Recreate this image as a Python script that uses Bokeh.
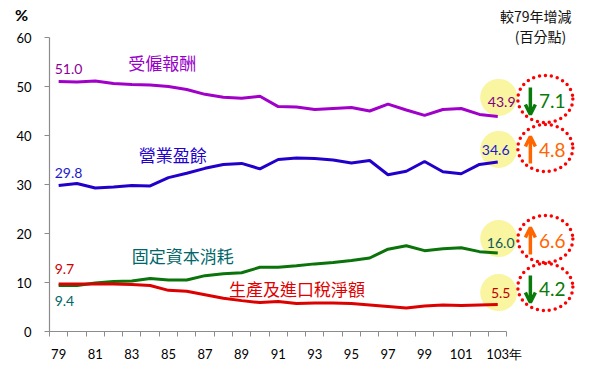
from bokeh.plotting import figure
from bokeh.models import (Range1d, FixedTicker, Label, Arrow, OpenHead)
from bokeh.core.properties import value
from bokeh.embed import file_html
from bokeh.resources import INLINE

# ---------------- data ----------------
years = list(range(79, 104))
year_ticks = list(range(79, 104, 2))
y_ticks = [0, 10, 20, 30, 40, 50, 60]

comp = [51.0, 50.9, 51.1, 50.6, 50.4, 50.3, 50.0, 49.4, 48.4, 47.8, 47.6, 48.0, 45.9,
        45.8, 45.3, 45.5, 45.7, 45.0, 46.4, 45.2, 44.1, 45.3, 45.5, 44.3, 43.9]
surplus = [29.8, 30.2, 29.3, 29.5, 29.8, 29.7, 31.4, 32.3, 33.3, 34.1, 34.3, 33.2, 35.1,
           35.4, 35.3, 35.0, 34.4, 34.9, 32.0, 32.7, 34.7, 32.6, 32.2, 34.1, 34.6]
capital = [9.4, 9.4, 9.9, 10.2, 10.3, 10.8, 10.5, 10.5, 11.4, 11.8, 12.0, 13.1, 13.1,
           13.4, 13.8, 14.1, 14.5, 15.0, 16.8, 17.5, 16.5, 16.9, 17.1, 16.3, 16.0]
tax = [9.7, 9.7, 9.7, 9.7, 9.6, 9.4, 8.4, 8.2, 7.5, 6.8, 6.3, 5.9, 6.1,
       5.7, 5.8, 5.8, 5.7, 5.4, 5.1, 4.8, 5.2, 5.4, 5.3, 5.4, 5.5]

names = ["受僱報酬", "營業盈餘", "固定資本消耗", "生產及進口稅淨額"]
series = [comp, surplus, capital, tax]
unit_label = "%"
year_unit = "年"
header = ["較79年增減", "(百分點)"]

# ---------------- styles / layout ----------------
line_colors = ["#A000C8", "#2200CC", "#0A730A", "#DD0000"]
name_colors = ["#9900CC", "#2200CC", "#00666A", "#E00000"]
end_colors = ["#800080", "#1A1ACC", "#0C5C5C", "#C00000"]
down_color = "#0A7A0A"
up_color = "#FF6600"

PX_X = 18.33   # px per year
PX_Y = 4.9     # px per percentage point
FW, FH = 600, 372
BL, BB = 48, 41
frame_w = FW - BL
frame_h = FH - BB
x0 = years[0] - 0.5

CJK = "Noto Sans CJK TC"
NUM = "Lato"

p = figure(width=FW, height=FH, output_backend="svg", toolbar_location=None,
           x_range=Range1d(x0, x0 + frame_w / PX_X), y_range=Range1d(0, frame_h / PX_Y),
           min_border_left=BL, min_border_right=0, min_border_top=0, min_border_bottom=BB)
p.outline_line_color = None
p.xgrid.visible = False
p.ygrid.visible = False
p.background_fill_color = "white"
p.border_fill_color = "white"

# axes
last_tick = years[-1] + 0.35   # shifted so that "103" stays centred and 年 follows it
xa = p.xaxis[0]
xa.ticker = FixedTicker(ticks=year_ticks[:-1] + [last_tick],
                        minor_ticks=[y - 0.5 for y in years] + [years[-1] + 0.5])
xa.major_label_overrides = {last_tick: f"{years[-1]}{year_unit}"}
xa.bounds = (years[0] - 0.5, years[-1] + 0.5)
xa.major_tick_out = 0
xa.major_tick_in = 0
xa.minor_tick_out = 5
xa.minor_tick_in = 0
xa.axis_line_color = "#8C8C8C"
xa.minor_tick_line_color = "#8C8C8C"
xa.axis_line_width = 1.2
xa.major_label_standoff = 9
xa.major_label_text_font = NUM
xa.major_label_text_font_size = "13px"
xa.major_label_text_color = "black"

ya = p.yaxis[0]
ya.ticker = FixedTicker(ticks=y_ticks, minor_ticks=[])
ya.bounds = (0, 60)
ya.major_tick_out = 5
ya.major_tick_in = 0
ya.minor_tick_out = 0
ya.axis_line_color = "#8C8C8C"
ya.major_tick_line_color = "#8C8C8C"
ya.axis_line_width = 1.2
ya.major_label_standoff = 13
ya.major_label_text_font = NUM
ya.major_label_text_font_size = "13px"
ya.major_label_text_color = "black"

# yellow badges behind the line ends
badge_dy_px = [19, 12.5, 14.5, 12]
badge_x = years[-1] + 0.05
ends = [s[-1] for s in series]
starts = [s[0] for s in series]
badge_y = [e + d / PX_Y for e, d in zip(ends, badge_dy_px)]
p.scatter(x=[badge_x] * 4, y=badge_y, size=37, fill_color="#F9F5A0", line_color=None)

# lines
for s, c in zip(series, line_colors):
    p.line(years, s, line_color=c, line_width=3)

# start labels (comp, surplus, tax above; capital below)
lab_vals = [comp[0], surplus[0], tax[0], capital[0]]
lab_cols = ["#8B0096", "#1A1ACC", "#CC0000", "#006666"]
lab_dy = [-13, -12.5, -14.5, 16]
for v, c, dy in zip(lab_vals, lab_cols, lab_dy):
    p.text(x=[years[0]], y=[v], text=[f"{v:.1f}"], x_offset=-4, y_offset=dy,
           text_align="left", text_baseline="middle", text_color=c,
           text_font=value(NUM), text_font_size="14px")

# series names
name_pos = [(84.66, 54.8), (85.24, 36.2), (85.78, 15.5), (92.03, 8.78)]
for n, (nx, ny), c in zip(names, name_pos, name_colors):
    p.text(x=[nx], y=[ny], text=[n], text_align="center", text_baseline="middle",
           text_color=c, text_font=value(CJK), text_font_size="17px")

# end values in badges
end_dx = [3, -3, 2, 2]
end_dy = [5, 1, 4, 0]
for e, by, c, dx, dy in zip(ends, badge_y, end_colors, end_dx, end_dy):
    p.text(x=[badge_x], y=[by], text=[f"{e:.1f}"], x_offset=dx, y_offset=dy,
           text_align="center", text_baseline="middle", text_color=c,
           text_font=value(NUM), text_font_size="14px")

# dotted red rings with change arrows
ring_x = years[-1] + 2.6
ring_dy_px = [17.4, 14, 14.1, 17.5]
ring_y = [e + d / PX_Y for e, d in zip(ends, ring_dy_px)]
p.ellipse(x=[ring_x] * 4, y=ring_y, width=55, height=47, width_units="screen",
          height_units="screen", fill_color=None, line_color="#FF0000",
          line_width=3.5, line_dash="0 6", line_cap="round")

arrow_x = ring_x - 15 / PX_X
half = 13.5 / PX_Y
for st, e, ry in zip(starts, ends, ring_y):
    ch = e - st
    up = ch > 0
    col = up_color if up else down_color
    cy = ry - 2 / PX_Y
    ys, ye = (cy - half, cy + half) if up else (cy + half, cy - half)
    p.add_layout(Arrow(end=OpenHead(size=10, line_color=col, line_width=3.5),
                       x_start=arrow_x, y_start=ys, x_end=arrow_x, y_end=ye,
                       line_color=col, line_width=3.5))
    p.text(x=[ring_x], y=[ry], text=[f"{abs(ch):.1f}"], x_offset=7, y_offset=2,
           text_align="center", text_baseline="middle", text_color=col,
           text_font=value(NUM), text_font_size="19px")

# header at right
p.text(x=[105.07], y=[(frame_h - 15) / PX_Y], text=[header[0]], text_align="center",
       text_baseline="middle", text_color="#111111", text_font=value(CJK),
       text_font_size="14px")
p.text(x=[105.34], y=[(frame_h - 35) / PX_Y], text=[header[1]], text_align="center",
       text_baseline="middle", text_color="#111111", text_font=value(CJK),
       text_font_size="14px")

# unit label in the left side panel
p.add_layout(Label(x=21, y=(frame_h - 14) / PX_Y, x_units="screen", y_units="data",
                   text=unit_label, text_align="center", text_baseline="middle",
                   text_font=NUM, text_font_size="16px", text_font_style="bold",
                   text_color="black"), "left")

open("out.html", "w").write(file_html(p, INLINE))
